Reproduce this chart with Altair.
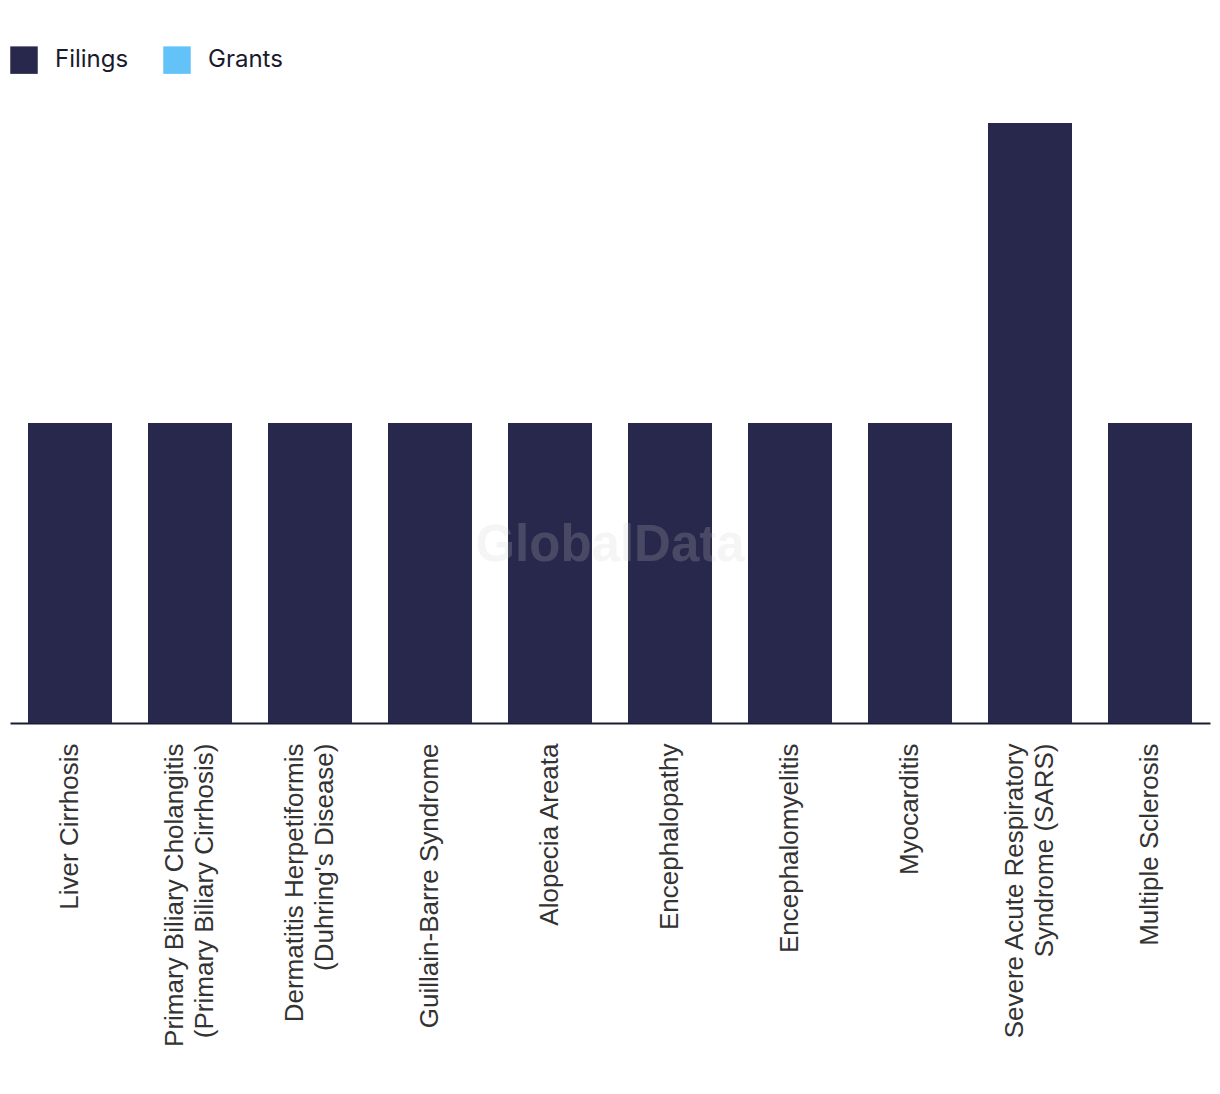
import altair as alt
import pandas as pd

categories = [
    "Liver Cirrhosis",
    "Primary Biliary Cholangitis\n(Primary Biliary Cirrhosis)",
    "Dermatitis Herpetiformis\n(Duhring's Disease)",
    "Guillain-Barre Syndrome",
    "Alopecia Areata",
    "Encephalopathy",
    "Encephalomyelitis",
    "Myocarditis",
    "Severe Acute Respiratory\nSyndrome (SARS)",
    "Multiple Sclerosis",
]
filings = [1, 1, 1, 1, 1, 1, 1, 1, 2, 1]
grants = [0, 0, 0, 0, 0, 0, 0, 0, 0, 0]
series = ["Filings", "Grants"]
colors = ["#27284B", "#63C3F8"]

rows = []
for c, f, g in zip(categories, filings, grants):
    rows.append({"disease": c, "series": "Filings", "value": f})
    rows.append({"disease": c, "series": "Grants", "value": g})
df = pd.DataFrame(rows)

bars = alt.Chart(df).mark_bar().encode(
    x=alt.X(
        "disease:N",
        sort=categories,
        title=None,
        scale=alt.Scale(paddingInner=0.3, paddingOuter=0.15),
        axis=alt.Axis(
            labelAngle=-90,
            labelFont="Liberation Sans",
            labelFontSize=26,
            labelColor="#333333",
            labelLineHeight=30,
            labelPadding=20,
            labelExpr="split(datum.label, '\\n')",
            labelOffset={
                "condition": {"test": "indexof(datum.label, '\\n') >= 0", "value": -15},
                "value": 0,
            },
            ticks=False,
            domainColor="#1C1C30",
            domainWidth=2,
            labelLimit=400,
        ),
    ),
    y=alt.Y("value:Q", stack="zero", title=None, axis=None,
            scale=alt.Scale(domain=[0, 2], nice=False)),
    color=alt.Color(
        "series:N",
        scale=alt.Scale(domain=series, range=colors),
        legend=alt.Legend(
            title=None,
            orient="none",
            legendX=0,
            legendY=-77,
            direction="horizontal",
            symbolType="square",
            symbolSize=756,
            symbolStrokeWidth=0,
            symbolOpacity=1,
            labelFont="Inter",
            labelFontSize=24,
            labelColor="#1A1A2E",
            labelOffset=17,
            columnPadding=34,
        ),
    ),
    order=alt.Order("series:N"),
)

wm = alt.Chart(pd.DataFrame({"t": ["GlobalData"]})).mark_text(
    font="Liberation Sans",
    fontSize=51,
    fontWeight="bold",
    color="#CFCFCF",
    opacity=0.2,
    align="center",
    baseline="middle",
).encode(text="t:N", x=alt.value(600), y=alt.value(423))

chart = alt.layer(bars, wm).properties(
    width=1200,
    height=600,
    autosize=alt.AutoSizeParams(type="none"),
    padding={"left": 2, "top": 115, "right": 2, "bottom": 363},
).configure_view(stroke=None)

chart.save("out.html", embed_options={"renderer": "svg", "actions": False})
